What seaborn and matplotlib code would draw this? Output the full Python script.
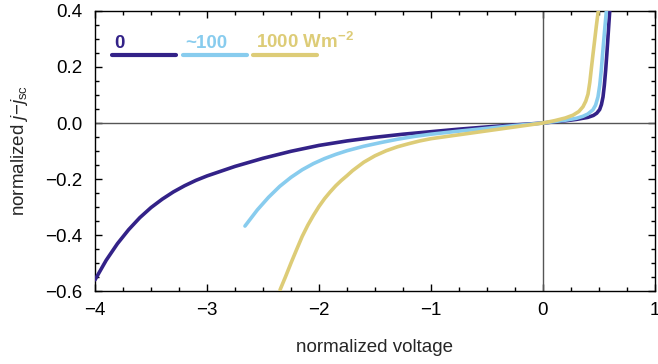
import numpy as np
import pandas as pd
import matplotlib
matplotlib.use("Agg")
import matplotlib.pyplot as plt
import seaborn as sns
from matplotlib.ticker import MultipleLocator, FuncFormatter
from matplotlib.lines import Line2D

sns.set_theme(style="ticks")
plt.rcParams['font.family'] = ['Liberation Sans', 'DejaVu Sans']
plt.rcParams['mathtext.fontset'] = 'custom'
plt.rcParams['mathtext.rm'] = 'Liberation Sans'
plt.rcParams['mathtext.it'] = 'Liberation Sans:italic'
plt.rcParams['mathtext.bf'] = 'Liberation Sans:bold'

# ---- data ----
v_dark = [-4.0, -3.9, -3.8, -3.7, -3.6, -3.5, -3.4, -3.3, -3.2, -3.1, -3.0, -2.75, -2.5,
          -2.25, -2.0, -1.75, -1.5, -1.25, -1.0, -0.75, -0.5, -0.25, 0.0, 0.1, 0.2, 0.3,
          0.4, 0.45, 0.48, 0.506, 0.522, 0.536, 0.548, 0.56, 0.57, 0.578, 0.587, 0.596]
j_dark = [-0.560, -0.490, -0.431, -0.381, -0.338, -0.302, -0.272, -0.246, -0.224, -0.205, -0.189,
          -0.155, -0.126, -0.101, -0.080, -0.064, -0.051, -0.040, -0.031, -0.022, -0.014,
          -0.007, 0.0, 0.004, 0.008, 0.013, 0.020, 0.027, 0.035, 0.048, 0.066, 0.093, 0.135,
          0.19, 0.245, 0.292, 0.347, 0.40]

v_low = [-2.661, -2.55, -2.45, -2.35, -2.25, -2.15, -2.05, -1.95, -1.85, -1.75, -1.6, -1.45,
         -1.3, -1.15, -1.0, -0.75, -0.5, -0.25, 0.0, 0.1, 0.2, 0.3, 0.357, 0.4, 0.446, 0.47,
         0.491, 0.507, 0.521, 0.532, 0.542, 0.554, 0.566]
j_low = [-0.368, -0.31, -0.265, -0.226, -0.194, -0.167, -0.145, -0.127, -0.112, -0.099, -0.083,
         -0.070, -0.058, -0.048, -0.040, -0.029, -0.019, -0.009, 0.0, 0.005, 0.01, 0.017, 0.024,
         0.032, 0.047, 0.064, 0.093, 0.135, 0.19, 0.245, 0.292, 0.347, 0.40]

v_sun = [-2.348, -2.3, -2.25, -2.2, -2.15, -2.1, -2.05, -2.0, -1.95, -1.9, -1.85, -1.8, -1.75,
         -1.7, -1.6, -1.5, -1.4, -1.3, -1.2, -1.1, -1.0, -0.75, -0.5, -0.25, 0.0, 0.1, 0.2,
         0.268, 0.32, 0.357, 0.382, 0.402, 0.418, 0.432, 0.447, 0.461, 0.476, 0.491, 0.505]
j_sun = [-0.596, -0.55, -0.50, -0.452, -0.405, -0.365, -0.330, -0.298, -0.270, -0.246, -0.224,
         -0.205, -0.188, -0.170, -0.140, -0.117, -0.099, -0.085, -0.074, -0.064, -0.056, -0.042,
         -0.028, -0.014, 0.0, 0.008, 0.018, 0.028, 0.041, 0.058, 0.078, 0.103, 0.145, 0.195, 0.247,
         0.294, 0.345, 0.392, 0.43]

labels = ["0", "~100", r"1000 Wm$^{\mathbf{-2}}$"]
colors = ["#332288", "#88CCEE", "#DDCC77"]

fig = plt.figure(figsize=(6.58, 3.64), dpi=100)
ax = fig.add_axes([0.1444, 0.2005, 0.851, 0.7693])

ax.axhline(0, color="#555555", lw=1, zorder=1)
ax.axvline(0, color="#555555", lw=1, zorder=1)

for v, j, c in [(v_dark, j_dark, colors[0]), (v_low, j_low, colors[1]), (v_sun, j_sun, colors[2])]:
    df = pd.DataFrame({"v": v, "j": j})
    sns.lineplot(data=df, x="v", y="j", ax=ax, color=c, lw=2.6, sort=False,
                 estimator=None, zorder=3)

ax.set_xlim(-4, 1)
ax.set_ylim(-0.6, 0.4)
ax.xaxis.set_major_locator(MultipleLocator(1))
ax.xaxis.set_minor_locator(MultipleLocator(0.25))
ax.yaxis.set_major_locator(MultipleLocator(0.2))
ax.yaxis.set_minor_locator(MultipleLocator(0.05))
ax.yaxis.set_major_formatter(FuncFormatter(
    lambda y, p: f"{y:.1f}".replace("-", "\u2212") if abs(y) > 1e-9 else "0.0"))
ax.xaxis.set_major_formatter(FuncFormatter(lambda x, p: f"{x:.0f}".replace("-", "\u2212")))
ax.tick_params(which="both", direction="in", top=True, right=True, colors="black", labelsize=13.5)
ax.tick_params(which="major", length=5, width=1)
ax.tick_params(which="minor", length=3, width=1)
ax.tick_params(axis="y", which="major", pad=9)
ax.tick_params(axis="x", which="major", pad=8)
for s in ax.spines.values():
    s.set_color("black")
    s.set_linewidth(1)

ax.set_xlabel("normalized voltage", fontsize=13.5, labelpad=14)
ax.set_ylabel(r"normalized $j$−$j_{\mathrm{sc}}$", fontsize=13.5, labelpad=11)

# legend: coloured text above coloured lines
leg = [(0.030, 0.145), (0.157, 0.271), (0.282, 0.396)]
for (x0, x1), lab, c in zip(leg, labels, colors):
    ax.text(x0 + 0.005, 0.868, lab, transform=ax.transAxes, color=c, fontsize=13.5,
            fontweight="bold", ha="left", va="baseline")
    ax.add_line(Line2D([x0, x1], [0.843, 0.843], transform=ax.transAxes, color=c, lw=3))

fig.savefig("out.png", dpi=100)
